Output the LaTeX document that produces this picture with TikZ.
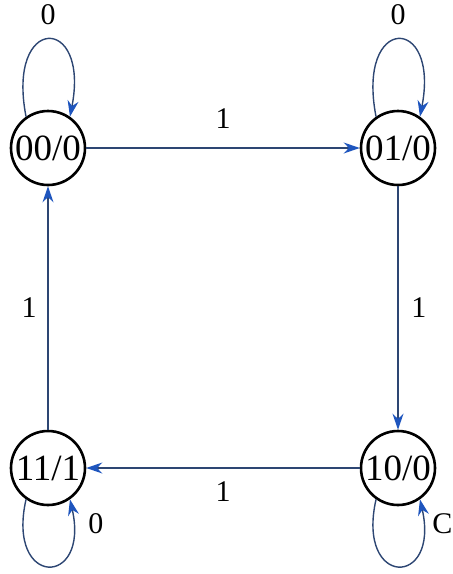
\documentclass[tikz,border=0pt]{standalone}
\usepackage{fontspec}
\setmainfont{Liberation Serif}
\usetikzlibrary{arrows.meta}
\definecolor{edgecol}{RGB}{45,70,115}
\definecolor{tipcol}{RGB}{30,85,190}
\begin{document}
\begin{tikzpicture}[
  x=0.5pt, y=-0.5pt,
  state/.style={circle, draw, line width=1.3pt, minimum size=37pt, inner sep=0pt, font=\fontsize{18.5}{18.5}\selectfont},
  trans/.style={draw=edgecol, line width=0.7pt, -{Stealth[length=8pt, width=5.5pt, color=tipcol]}},
  lbl/.style={font=\fontsize{15}{15}\selectfont}
]
\useasboundingbox (0,0) rectangle (452,574);
\node[state] (s00) at (48,148) {00/0};
\node[state] (s01) at (398,148) {01/0};
\node[state] (s10) at (398,468) {10/0};
\node[state] (s11) at (48,468) {11/1};

\draw[trans] (s00) -- (s01) node[lbl, midway, above=6pt] {1};
\draw[trans] (s01) -- (s10) node[lbl, midway, right=3pt] {1};
\draw[trans] (s10) -- (s11) node[lbl, midway, below=3pt] {1};
\draw[trans] (s11) -- (s00) node[lbl, midway, left=2pt] {1};

\draw[trans] (s00.125) .. controls (6,14) and (90,14) .. (s00.55) node[lbl, pos=0.5, above=4pt] {0};
\draw[trans] (s01.125) .. controls (356,14) and (440,14) .. (s01.55) node[lbl, pos=0.5, above=4pt] {0};
\draw[trans] (s11.235) .. controls (6,588) and (90,588) .. (s11.305) node[lbl, pos=0.9, right=4pt] {0};
\draw[trans] (s10.235) .. controls (356,588) and (440,588) .. (s10.305) node[lbl, pos=0.9, right=1pt] {C};
\end{tikzpicture}
\end{document}
